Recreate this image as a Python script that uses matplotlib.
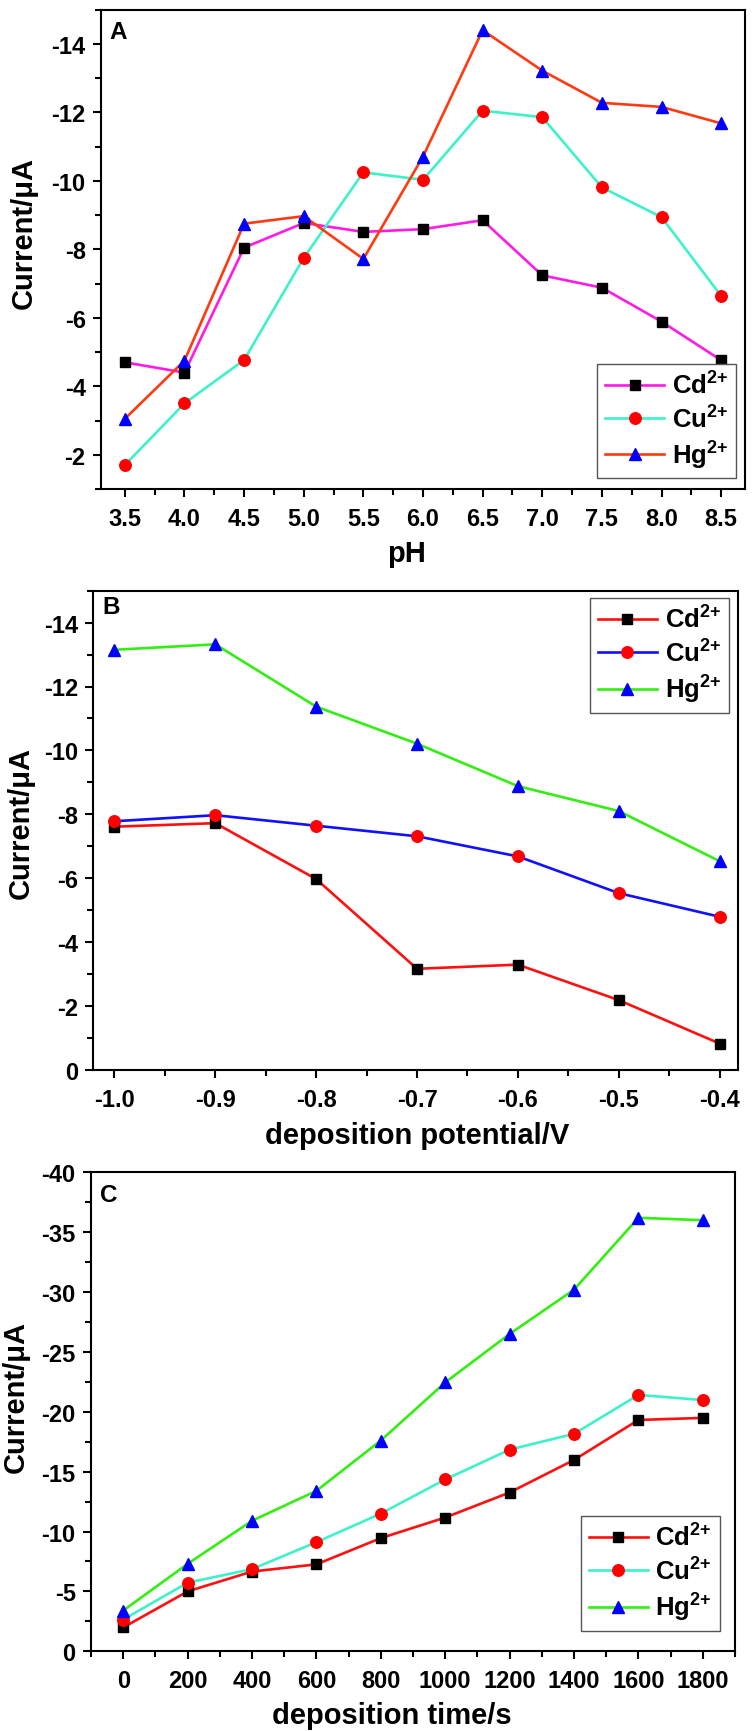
import matplotlib
matplotlib.use("Agg")
import matplotlib.pyplot as plt
from matplotlib.ticker import MultipleLocator, FormatStrFormatter

plt.rcParams['font.family'] = ['Liberation Sans', 'DejaVu Sans']
plt.rcParams['font.weight'] = 'bold'
plt.rcParams['axes.unicode_minus'] = False
plt.rcParams['mathtext.fontset'] = 'custom'
plt.rcParams['mathtext.rm'] = 'Liberation Sans:bold'
plt.rcParams['mathtext.bf'] = 'Liberation Sans:bold'
plt.rcParams['mathtext.it'] = 'Liberation Sans:bold'
plt.rcParams['mathtext.default'] = 'bf'

# ---------------- data ----------------
series_names = ['Cd$^{2{+}}$', 'Cu$^{2{+}}$', 'Hg$^{2{+}}$']

ph = [3.5, 4.0, 4.5, 5.0, 5.5, 6.0, 6.5, 7.0, 7.5, 8.0, 8.5]
ph_cd = [-4.70, -4.40, -8.05, -8.77, -8.51, -8.59, -8.85, -7.24, -6.88, -5.89, -4.76]
ph_cu = [-1.70, -3.50, -4.77, -7.75, -10.25, -10.03, -12.05, -11.86, -9.81, -8.94, -6.64]
ph_hg = [-3.05, -4.75, -8.75, -8.97, -7.72, -10.71, -14.40, -13.22, -12.28, -12.16, -11.68]

pot = [-1.0, -0.9, -0.8, -0.7, -0.6, -0.5, -0.4]
pot_cd = [-7.61, -7.72, -5.97, -3.16, -3.29, -2.18, -0.82]
pot_cu = [-7.78, -7.97, -7.64, -7.31, -6.68, -5.53, -4.79]
pot_hg = [-13.15, -13.32, -11.37, -10.21, -8.88, -8.10, -6.53]

time = [0, 200, 400, 600, 800, 1000, 1200, 1400, 1600, 1800]
time_cd = [-1.99, -5.00, -6.66, -7.26, -9.45, -11.17, -13.26, -15.98, -19.32, -19.49]
time_cu = [-2.65, -5.73, -6.86, -9.11, -11.50, -14.35, -16.84, -18.16, -21.41, -20.98]
time_hg = [-3.40, -7.30, -10.90, -13.40, -17.60, -22.45, -26.50, -30.20, -36.20, -36.00]

# ---------------- styling ----------------
marker_styles = [('s', '#000000', 7.2), ('o', '#FF0000', 8.3), ('^', '#0000FF', 8.8)]
line_colors_A = ['#FF1AE6', '#3DF2C8', '#FF3A10']
line_colors_B = ['#FF1010', '#1010FF', '#33EE11']
line_colors_C = ['#FF1010', '#3DF2C8', '#33EE11']

fig = plt.figure(figsize=(7.55, 17.33), dpi=100)

rects = [
    [101/755, 1 - 490/1733, 644/755, 479.3/1733],
    [93.3/755, 1 - 1070.7/1733, 644.4/755, 479/1733],
    [91/755, 1 - 1652.3/1733, 644/755, 479/1733],
]

TICK_FS = 17
LABEL_FS = 21
LEG_FS = 18.5
LETTER_FS = 17.5

def style_axes(ax, xmaj, xmin, ymaj, ymin, xfmt):
    for s in ax.spines.values():
        s.set_linewidth(1.5)
    ax.xaxis.set_major_locator(MultipleLocator(xmaj))
    ax.xaxis.set_minor_locator(MultipleLocator(xmin))
    ax.yaxis.set_major_locator(MultipleLocator(ymaj))
    ax.yaxis.set_minor_locator(MultipleLocator(ymin))
    ax.xaxis.set_major_formatter(FormatStrFormatter(xfmt))
    ax.yaxis.set_major_formatter(FormatStrFormatter('%d'))
    ax.tick_params(which='major', direction='out', length=6, width=1.5,
                   labelsize=TICK_FS, top=False, right=False)
    ax.tick_params(which='minor', direction='out', length=4, width=1.5,
                   top=False, right=False)
    ax.tick_params(axis='x', which='major', pad=7)
    ax.tick_params(axis='y', which='major', pad=5)
    for lab in ax.get_xticklabels() + ax.get_yticklabels():
        lab.set_fontweight('bold')

def draw(ax, x, ys, colors):
    for y, c, (m, mc, ms) in zip(ys, colors, marker_styles):
        ax.plot(x, y, color=c, lw=1.9, marker=m, ms=ms, mfc=mc, mec=mc)
    handles = []
    for c, (m, mc, ms), name in zip(colors, marker_styles, series_names):
        h, = ax.plot([], [], color=c, lw=1.9, marker=m, ms=ms, mfc=mc, mec=mc,
                     label=name)
        handles.append(h)
    return handles

def legend(ax, handles, loc, anchor):
    leg = ax.legend(handles=handles, loc=loc, bbox_to_anchor=anchor,
                    borderaxespad=0, fancybox=False, framealpha=1,
                    edgecolor='#555555', handlelength=2.3,
                    handletextpad=0.3, labelspacing=0.25, borderpad=0.3,
                    prop={'weight': 'bold', 'size': LEG_FS})
    leg.get_frame().set_linewidth(1.0)

# ---- Panel A ----
axA = fig.add_axes(rects[0])
hA = draw(axA, ph, [ph_cd, ph_cu, ph_hg], line_colors_A)
axA.set_xlim(3.3, 8.7)
axA.set_ylim(-1, -15)
style_axes(axA, 0.5, 0.25, 2, 1, '%.1f')
axA.set_xlabel('pH', fontsize=LABEL_FS, fontweight='bold')
axA.set_ylabel('Current/\u03bcA', fontsize=LABEL_FS, fontweight='bold')
axA.xaxis.set_label_coords(0.475, -0.104)
axA.yaxis.set_label_coords(-0.098, 0.536)
axA.text(0.013, 0.978, 'A', transform=axA.transAxes, fontsize=LETTER_FS,
         fontweight='bold', va='top', ha='left')
legend(axA, hA, 'lower right', (0.986, 0.022))

# ---- Panel B ----
axB = fig.add_axes(rects[1])
hB = draw(axB, pot, [pot_cd, pot_cu, pot_hg], line_colors_B)
axB.set_xlim(-1.021, -0.382)
axB.set_ylim(0, -15)
style_axes(axB, 0.1, 0.05, 2, 1, '%.1f')
axB.set_xlabel('deposition potential/V', fontsize=LABEL_FS, fontweight='bold')
axB.set_ylabel('Current/\u03bcA', fontsize=LABEL_FS, fontweight='bold')
axB.xaxis.set_label_coords(0.502, -0.108)
axB.yaxis.set_label_coords(-0.091, 0.518)
axB.text(0.014, 0.99, 'B', transform=axB.transAxes, fontsize=LETTER_FS,
         fontweight='bold', va='top', ha='left')
legend(axB, hB, 'upper right', (0.986, 0.985))

# ---- Panel C ----
axC = fig.add_axes(rects[2])
hC = draw(axC, time, [time_cd, time_cu, time_hg], line_colors_C)
axC.set_xlim(-100, 1900)
axC.set_ylim(0, -40)
style_axes(axC, 200, 100, 5, 2.5, '%d')
axC.set_xlabel('deposition time/s', fontsize=LABEL_FS, fontweight='bold')
axC.set_ylabel('Current/\u03bcA', fontsize=LABEL_FS, fontweight='bold')
axC.xaxis.set_label_coords(0.467, -0.104)
axC.yaxis.set_label_coords(-0.095, 0.533)
axC.text(0.014, 0.978, 'C', transform=axC.transAxes, fontsize=LETTER_FS,
         fontweight='bold', va='top', ha='left')
legend(axC, hC, 'lower right', (0.976, 0.043))

fig.savefig('out.png', dpi=100)
